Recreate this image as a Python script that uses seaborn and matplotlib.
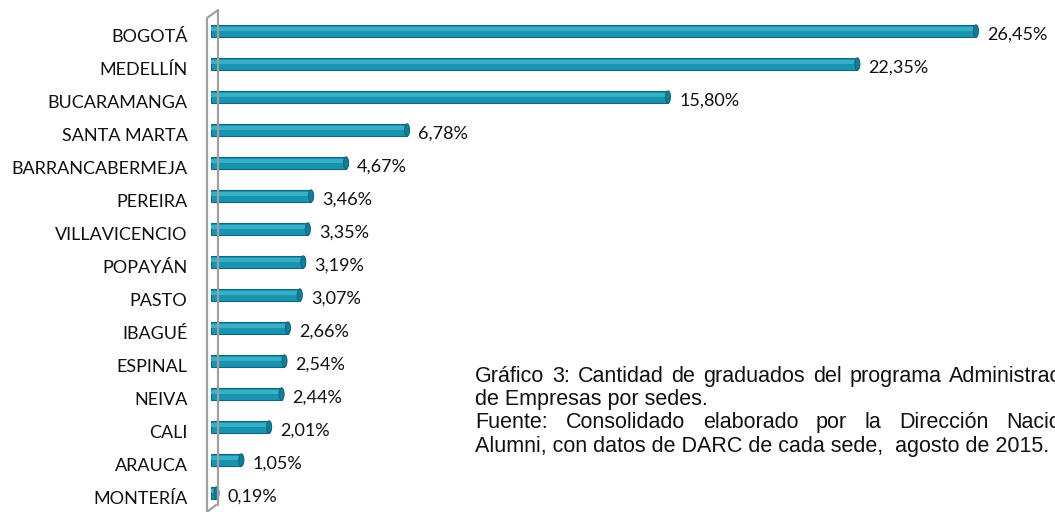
import matplotlib
matplotlib.use("Agg")
import matplotlib.pyplot as plt
import matplotlib.transforms as mtransforms
import seaborn as sns
import pandas as pd
from matplotlib.lines import Line2D
from matplotlib.patches import Ellipse

sedes = ["BOGOTÁ", "MEDELLÍN", "BUCARAMANGA", "SANTA MARTA", "BARRANCABERMEJA",
         "PEREIRA", "VILLAVICENCIO", "POPAYÁN", "PASTO", "IBAGUÉ", "ESPINAL",
         "NEIVA", "CALI", "ARAUCA", "MONTERÍA"]
porcentaje = [26.45, 22.35, 15.80, 6.78, 4.67, 3.46, 3.35, 3.19, 3.07, 2.66,
              2.54, 2.44, 2.01, 1.05, 0.19]

caption = [
    ("Gráfico 3: Cantidad de graduados del programa Administración", True),
    ("de Empresas por sedes.", False),
    ("Fuente: Consolidado elaborado por la Dirección Nacional", True),
    ("Alumni, con datos de DARC de cada sede,  agosto de 2015.", False),
]

df = pd.DataFrame({"sede": sedes, "pct": porcentaje})

sns.set_style("white")
W, H = 1055, 512
fig = plt.figure(figsize=(W / 100, H / 100), dpi=100)
ax = fig.add_axes([211 / W, 3 / H, (W - 211) / W, 500 / H])

sns.barplot(data=df, x="pct", y="sede", color="#1894b0", width=0.37,
            edgecolor="#11687d", linewidth=0.8, saturation=1, ax=ax)
# tube look: light strip and rounded end on each bar
cap_w = 5 / 28.92
for p in list(ax.patches):
    x0, y0 = p.get_x(), p.get_y()
    w, h = p.get_width(), p.get_height()
    ax.add_patch(plt.Rectangle((x0, y0 + h * 0.2), w, h * 0.3,
                               color="#39aec7", lw=0, zorder=3))
    ax.add_patch(Ellipse((x0 + w, y0 + h / 2), cap_w, h, facecolor="#137d95",
                         edgecolor="#11687d", lw=0.8, zorder=4))

ax.set_xlim(0, (W - 211) / 28.92)
ax.set_ylim(14.485, -0.667)
ax.set_xlabel("")
ax.set_ylabel("")
ax.set_xticks([])
for s in ax.spines.values():
    s.set_visible(False)
ax.tick_params(axis="y", length=0, pad=17)
shift = mtransforms.ScaledTranslation(0, -4.5 / 100, fig.dpi_scale_trans)
for t in ax.get_yticklabels():
    t.set_fontfamily("Lato")
    t.set_fontsize(13)
    t.set_color("#111111")
    t.set_transform(t.get_transform() + shift)

for i, v in enumerate(porcentaje):
    ax.annotate(f"{v:.2f}%".replace(".", ","), (v, i), xytext=(8, -2.5),
                textcoords="offset points", va="center", ha="left",
                fontsize=13, family="Lato", color="#111111")

# 3D wall on the left
wall = dict(color="#a0a0a0", lw=1.6, transform=None)
fig.add_artist(Line2D([207, 207, 218, 218], [H - 512, H - 18, H - 10, H - 505], **wall))
fig.add_artist(Line2D([207, 216], [H - 512, H - 505], **wall))

# caption, justified like the source document
fig.canvas.draw()
renderer = fig.canvas.get_renderer()
x_left, x_right = 475, 1090
ys = [382, 405, 428, 452]
fp = dict(fontsize=15.5, family="Liberation Sans", color="#111111", va="baseline")
for (line, justify), y in zip(caption, ys):
    if not justify:
        fig.text(x_left / W, 1 - y / H, line, **fp)
        continue
    words = line.split()
    widths = []
    for wd in words:
        t = fig.text(0, 0, wd, **fp)
        widths.append(t.get_window_extent(renderer).width)
        t.remove()
    gap = (x_right - x_left - sum(widths)) / (len(words) - 1)
    x = x_left
    for wd, wi in zip(words, widths):
        fig.text(x / W, 1 - y / H, wd, **fp)
        x += wi + gap

fig.savefig("out.png", dpi=100)
